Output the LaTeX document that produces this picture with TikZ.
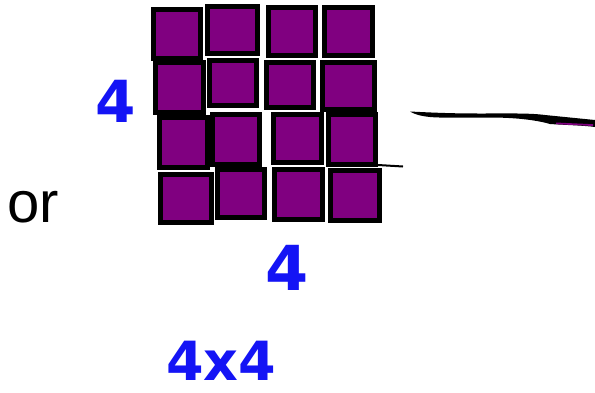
\documentclass[tikz,border=0pt]{standalone}
\usepackage{fontspec}
\setmainfont{Liberation Sans}
\newfontfamily\handfont{DejaVu Sans}
\definecolor{sqpurple}{RGB}{128,0,128}
\definecolor{penblue}{RGB}{20,20,245}
\tikzset{
  sq/.style={draw=black, fill=sqpurple, line width=5pt},
  hand/.style={text=penblue, font=\handfont\bfseries\fontsize{58}{58}\selectfont, inner sep=0pt, anchor=base west},
}
\newcommand{\sqbox}[4]{\draw[sq] (#1+2.5,#2+2.5) rectangle (#3-2.5,#4-2.5);}
\begin{document}
\begin{tikzpicture}[x=1pt,y=-1pt]
\useasboundingbox[fill=white] (0,0) rectangle (595,392);
% row 1
\sqbox{151}{7}{203}{61}
\sqbox{205}{4}{260}{56}
\sqbox{266}{5}{318}{58}
\sqbox{322}{5}{375}{58}
% row 2
\sqbox{153}{60}{206}{115}
\sqbox{207}{58}{259}{108}
\sqbox{264}{60}{316}{110}
\sqbox{320}{60}{377}{112}
% row 3
\sqbox{157}{115}{210}{170}
\sqbox{210}{112}{262}{167}
\sqbox{271}{112}{324}{165}
\sqbox{326}{112}{378}{167}
% row 4
\sqbox{158}{172}{214}{225}
\sqbox{215}{167}{267}{220}
\sqbox{272}{167}{325}{222}
\sqbox{328}{168}{382}{223}
% small line to the right of row 3
\draw[line width=2pt] (378,165) -- (403,166.5);
% right stroke
\fill[black] (410,111.5) .. controls (430,112.5) and (450,113.5) .. (480,113.5)
  .. controls (510,113.5) and (530,113) .. (545,115)
  .. controls (565,117) and (585,119) .. (595,120)
  -- (595,127) .. controls (585,125.5) and (565,125) .. (550,124)
  .. controls (540,121) and (520,117.5) .. (490,117.5)
  .. controls (460,117.5) and (440,118) .. (430,117)
  .. controls (420,116) and (414,114) .. (410,111.5) -- cycle;
\fill[sqpurple] (556,122.5) .. controls (570,123.2) and (582,123.7) .. (593,124.2)
  -- (593,126) .. controls (580,125.3) and (568,124.8) .. (556,124.2) -- cycle;
% texts
\node[inner sep=0pt, anchor=base west, font=\fontsize{58}{58}\selectfont] (or) at (7,222) {or};
\node[hand] (lefthand) at (95,122) {4};
\node[hand, font=\handfont\bfseries\fontsize{62}{62}\selectfont] (bottomhand) at (265,290) {4};
\node[hand, font=\handfont\bfseries\fontsize{54}{54}\selectfont] (prod) at (166,380) {4x4};
\end{tikzpicture}
\end{document}
